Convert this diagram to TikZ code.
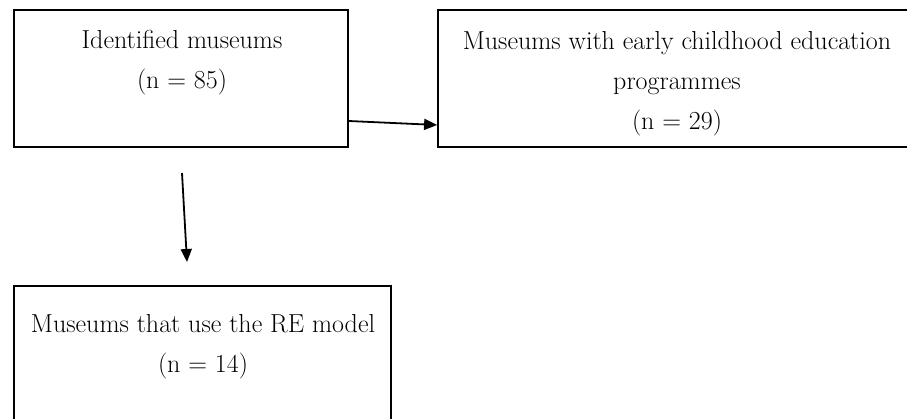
\documentclass[tikz,border=0pt]{standalone}
\usetikzlibrary{arrows.meta}
\begin{document}
\begin{tikzpicture}[x=1pt,y=-1pt,
  box/.style={draw, line width=1.8pt, rectangle, inner sep=0pt},
  lbl/.style={align=center, anchor=base, inner sep=0pt, font=\fontsize{26}{40}\selectfont},
  arr/.style={line width=1.8pt, -{Triangle[length=13pt,width=11pt]}}]
\useasboundingbox (0,0) rectangle (907,418);
\node[box, minimum width=334pt, minimum height=137.5pt] (b1) at (181,78.5) {};
\node[box, minimum width=482pt, minimum height=137.5pt] (b2) at (679,78.5) {};
\node[box, minimum width=377pt, minimum height=150pt] (b3) at (202.5,361) {};
\node[lbl] (t1) at (182,88) {Identified museums\\(n = 85)};
\node[lbl] (t2) at (677,129) {Museums with early childhood education\\programmes\\(n = 29)};
\node[lbl] (t3) at (203,372) {Museums that use the RE model\\(n = 14)};
\coordinate (s1) at (b1.east |- 0,121);
\coordinate (e1) at (b2.west |- 0,125);
\coordinate (s2) at (182,173);
\coordinate (e2) at (187,262);
\draw[arr] (s1) -- (e1);
\draw[arr] (s2) -- (e2);
\end{tikzpicture}
\end{document}
